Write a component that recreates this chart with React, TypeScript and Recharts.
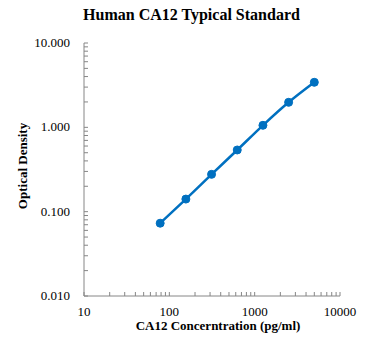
import React from 'react';
import { LineChart, Line, XAxis, YAxis, Label } from 'recharts';

const concentrations = [78.125, 156.25, 312.5, 625, 1250, 2500, 5000];
const opticalDensity = [0.073, 0.141, 0.277, 0.539, 1.057, 1.98, 3.42];

const xTicks = [10, 20, 30, 40, 50, 60, 70, 80, 90, 100, 200, 300, 400, 500, 600, 700, 800, 900, 1000, 2000, 3000, 4000, 5000, 6000, 7000, 8000, 9000, 10000];
const yTicks = [0.01, 0.02, 0.03, 0.04, 0.05, 0.06, 0.07, 0.08, 0.09, 0.1, 0.2, 0.3, 0.4, 0.5, 0.6, 0.7, 0.8, 0.9, 1, 2, 3, 4, 5, 6, 7, 8, 9, 10];

const data = concentrations.map((x, i) => ({ x, od: opticalDensity[i] }));

const FONT = "Times New Roman, Liberation Serif, DejaVu Serif, serif";
const AXIS = '#868686';
const BLUE = '#0070C0';

const isMajor = (v: number) => {
  const l = Math.log10(v);
  return Math.abs(l - Math.round(l)) < 1e-9;
};

const XTick = (props: any) => {
  const { x, y, payload } = props;
  const v = payload.value;
  return (
    <g>
      <line x1={x} x2={x} y1={y} y2={y - 4} stroke={AXIS} strokeWidth={1} />
      {isMajor(v) && (
        <text x={x} y={y + 20} textAnchor="middle" style={{ fontFamily: FONT }} fontSize={13} fill="#000">
          {String(v)}
        </text>
      )}
    </g>
  );
};

const YTick = (props: any) => {
  const { x, y, payload } = props;
  const v = payload.value;
  return (
    <g>
      <line x1={x} x2={x + 4} y1={y} y2={y} stroke={AXIS} strokeWidth={1} />
      {isMajor(v) && (
        <text x={x - 14} y={y + 4} textAnchor="end" style={{ fontFamily: FONT }} fontSize={13} fill="#000">
          {v.toFixed(3)}
        </text>
      )}
    </g>
  );
};

export default function App() {
  return (
    <div style={{ position: 'absolute', left: 0, top: 0, width: 372, height: 353, background: '#fff', fontFamily: FONT }}>
      <div
        style={{
          position: 'absolute',
          left: 0,
          top: 6,
          width: 383,
          textAlign: 'center',
          fontFamily: FONT,
          fontWeight: 'bold',
          fontSize: 16,
          color: '#000',
        }}
      >
        Human CA12 Typical Standard
      </div>
      <LineChart width={372} height={353} data={data} margin={{ top: 43, right: 32, bottom: 0, left: 0 }}>
        <XAxis
          dataKey="x"
          type="number"
          scale="log"
          domain={[10, 10000]}
          ticks={xTicks}
          interval={0}
          tick={<XTick />}
          tickSize={0}
          tickMargin={0}
          height={57}
          stroke={AXIS}
          allowDataOverflow
        >
          <Label
            content={() => (
              <text x={218} y={330} textAnchor="middle" style={{ fontFamily: FONT }} fontWeight="bold" fontSize={13} fill="#000">
                CA12 Concerntration (pg/ml)
              </text>
            )}
          />
        </XAxis>
        <YAxis
          type="number"
          scale="log"
          domain={[0.01, 10]}
          ticks={yTicks}
          interval={0}
          tick={<YTick />}
          tickSize={0}
          tickMargin={0}
          width={84}
          stroke={AXIS}
          allowDataOverflow
        >
          <Label
            content={() => (
              <text
                x={22}
                y={166}
                transform="rotate(-90 22 166)"
                textAnchor="middle"
                dominantBaseline="central"
                style={{ fontFamily: FONT }}
                fontWeight="bold"
                fontSize={13}
                fill="#000"
              >
                Optical Density
              </text>
            )}
          />
        </YAxis>
        <Line
          dataKey="od"
          type="monotone"
          stroke={BLUE}
          strokeWidth={2.5}
          dot={{ r: 4, fill: BLUE, stroke: BLUE, strokeWidth: 1 }}
          isAnimationActive={false}
        />
      </LineChart>
    </div>
  );
}
